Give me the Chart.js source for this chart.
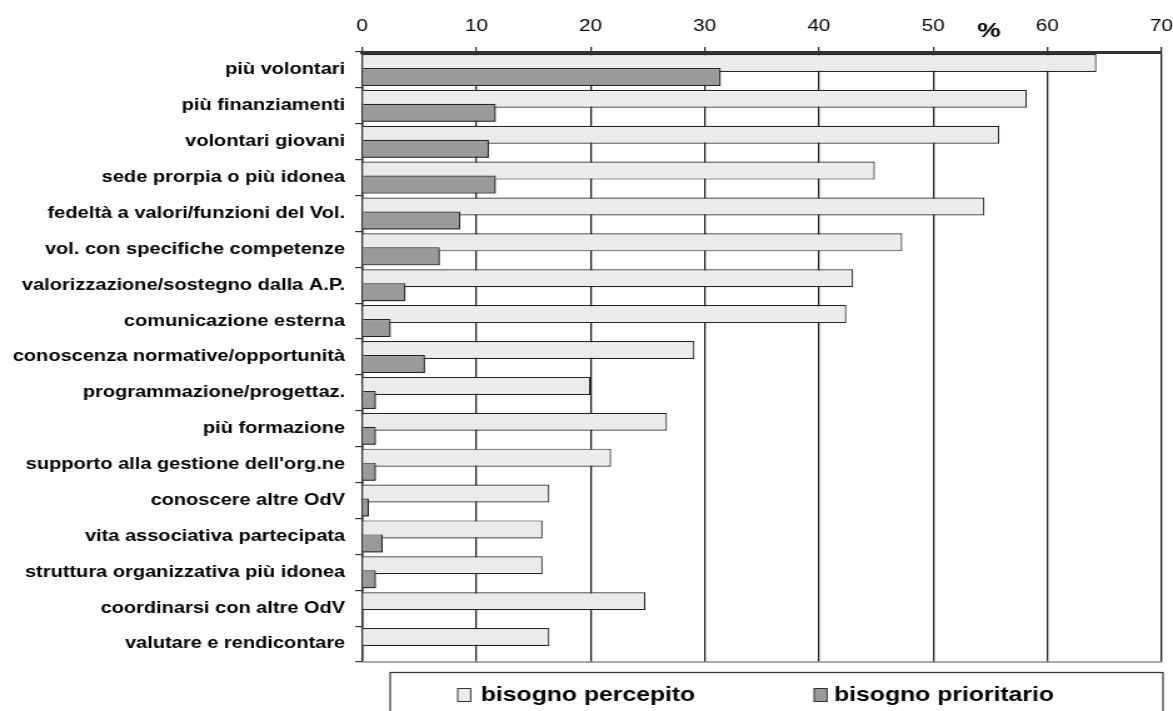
<!DOCTYPE html>
<html>
<head>
<meta charset="utf-8">
<script src="https://cdn.jsdelivr.net/npm/chart.js@4.4.1/dist/chart.umd.min.js"></script>
<style>
  html, body { margin: 0; padding: 0; background: #fff; overflow: hidden; }
  /* the chart is laid out on a narrower frame and widened to the page */
  #frame { width: 938px; height: 711px; transform: scaleX(1.25053); transform-origin: 0 0; }
</style>
</head>
<body>
<div id="frame"><canvas id="c"></canvas></div>
<script>
const categories = [
  'più volontari',
  'più finanziamenti',
  'volontari giovani',
  'sede prorpia o più idonea',
  'fedeltà a valori/funzioni del Vol.',
  'vol. con specifiche competenze',
  'valorizzazione/sostegno dalla A.P.',
  'comunicazione esterna',
  'conoscenza normative/opportunità',
  'programmazione/progettaz.',
  'più formazione',
  "supporto alla gestione dell'org.ne",
  'conoscere altre OdV',
  'vita associativa partecipata',
  'struttura organizzativa più idonea',
  'coordinarsi con altre OdV',
  'valutare e rendicontare'
];

const percepito   = [64.3, 58.2, 55.8, 44.9, 54.5, 47.3, 43.0, 42.4, 29.1, 20.0, 26.7, 21.8, 16.4, 15.8, 15.8, 24.8, 16.4];
const prioritario = [31.4, 11.7, 11.1, 11.7, 8.6, 6.8, 3.8, 2.5, 5.5, 1.2, 1.2, 1.2, 0.6, 1.8, 1.2, 0, 0];

const seriesNames = ['bisogno percepito', 'bisogno prioritario'];
const xMin = 0, xMax = 70, xStep = 10;
const unitLabel = '%';

const FONT = '"Liberation Sans", Arial, Helvetica, sans-serif';

// redraw the darker series last so it sits over the lighter bars
const overlayPlugin = {
  id: 'overlay',
  afterDatasetsDraw(chart) {
    const meta = chart.getDatasetMeta(1);
    if (meta && !meta.hidden) meta.controller.draw();
  }
};

// bottom frame line, unit label and the boxed legend
const decorPlugin = {
  id: 'decor',
  afterDraw(chart) {
    const ctx = chart.ctx;
    const area = chart.chartArea;
    const xs = chart.scales.x;
    ctx.save();

    ctx.strokeStyle = '#8c8c8c';
    ctx.lineWidth = 1.5;
    ctx.beginPath();
    ctx.moveTo(area.left, area.bottom);
    ctx.lineTo(area.right, area.bottom);
    ctx.stroke();

    ctx.fillStyle = '#000';
    ctx.font = 'bold 21px ' + FONT;
    ctx.textAlign = 'center';
    ctx.textBaseline = 'middle';
    ctx.fillText(unitLabel, xs.getPixelForValue(54.9), 31);

    // legend box
    ctx.strokeStyle = '#333';
    ctx.lineWidth = 1.2;
    ctx.strokeRect(312, 672.5, 618, 60);

    const swatchX = [366, 651];
    const textX = [384.5, 667];
    ctx.font = 'bold 19.8px ' + FONT;
    ctx.textAlign = 'left';
    chart.data.datasets.forEach((ds, i) => {
      ctx.fillStyle = ds.backgroundColor;
      ctx.fillRect(swatchX[i], 688.5, 10.4, 13);
      ctx.strokeStyle = '#333';
      ctx.lineWidth = 1;
      ctx.strokeRect(swatchX[i], 688.5, 10.4, 13);
      ctx.fillStyle = '#000';
      ctx.fillText(ds.label, textX[i], 696);
    });
    ctx.restore();
  }
};

new Chart(document.getElementById('c'), {
  type: 'bar',
  data: {
    labels: categories,
    datasets: [
      {
        label: seriesNames[0],
        data: percepito,
        backgroundColor: '#ebebeb',
        borderColor: '#262626',
        borderWidth: 1.2,
        categoryPercentage: 0.78,
        barPercentage: 1.286
      },
      {
        label: seriesNames[1],
        data: prioritario,
        backgroundColor: '#9a9a9a',
        borderColor: '#262626',
        borderWidth: 1.2,
        categoryPercentage: 0.78,
        barPercentage: 1.286
      }
    ]
  },
  options: {
    indexAxis: 'y',
    responsive: true,
    maintainAspectRatio: false,
    animation: false,
    layout: { padding: { left: 0, right: 0, top: 0, bottom: 49 } },
    plugins: {
      legend: { display: false },
      tooltip: { enabled: false }
    },
    scales: {
      x: {
        type: 'linear',
        position: 'top',
        min: xMin,
        max: xMax,
        ticks: {
          stepSize: xStep,
          color: '#000',
          padding: 11,
          font: { family: FONT, size: 16.5 }
        },
        grid: {
          color: '#222',
          lineWidth: 1.3,
          drawTicks: true,
          tickLength: 5,
          tickColor: '#333'
        },
        border: { color: '#333', width: 3 },
        afterFit(scale) {
          scale.height = 52;
          scale.paddingLeft = 0;
          scale.paddingRight = 9.2;
        }
      },
      y: {
        type: 'category',
        ticks: {
          color: '#000',
          padding: 8,
          autoSkip: false,
          font: { family: FONT, size: 16, weight: 'bold' }
        },
        grid: {
          drawOnChartArea: false,
          drawTicks: true,
          tickLength: 5.6,
          color: '#333',
          lineWidth: 1.2
        },
        border: { color: '#333', width: 1.5 },
        afterFit(scale) { scale.width = 289.6; }
      }
    }
  },
  plugins: [overlayPlugin, decorPlugin]
});
</script>
</body>
</html>
